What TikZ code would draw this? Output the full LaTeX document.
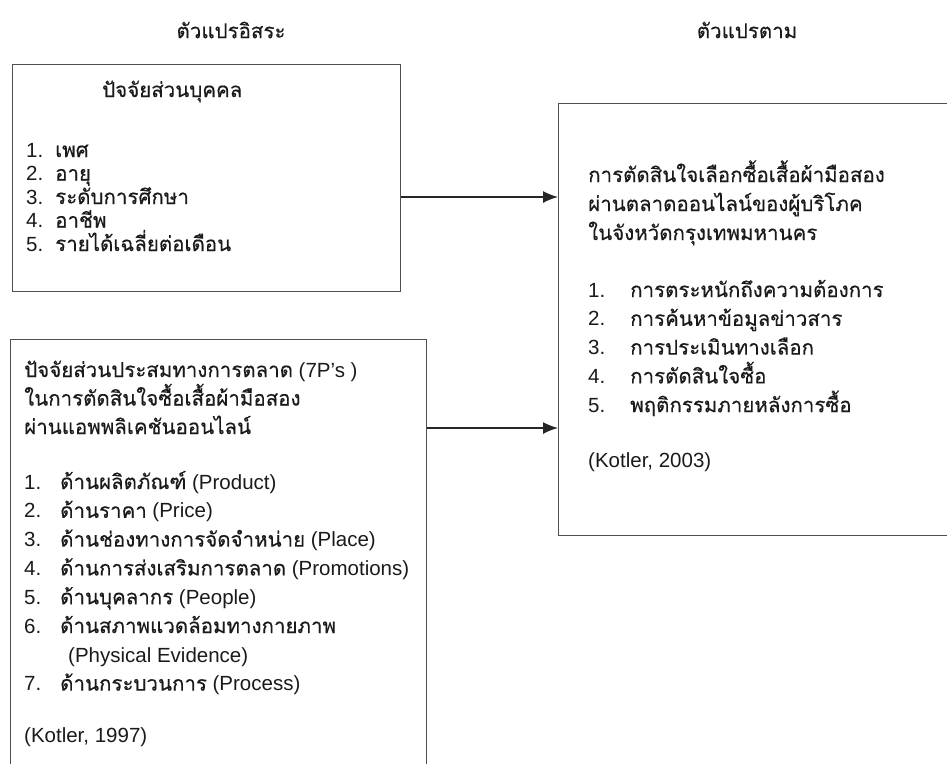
\documentclass[tikz,border=0pt]{standalone}
\usepackage{fontspec}
\setmainfont{Liberation Sans}
\newfontfamily\thaifont[Script=Thai,FakeBold=0.4]{Loma}
\usetikzlibrary{arrows.meta}

\definecolor{framegray}{HTML}{505050}
\definecolor{inkgray}{HTML}{1A1A1A}

\tikzset{
  panel/.style={draw=framegray, line width=1.4pt, inner sep=0pt, anchor=north west},
  txt/.style={anchor=base west, inner sep=0pt, text=inkgray, font=\fontsize{20.5}{24}\selectfont},
  colhead/.style={inner sep=0pt, text=inkgray, font=\thaifont\fontsize{20.5}{24}\selectfont},
  link/.style={draw=black!85, line width=1.4pt, -{Latex[length=15pt,width=12pt]}}
}

\begin{document}
\begin{tikzpicture}[x=1pt,y=1pt]
\useasboundingbox (0,0) rectangle (947,-763);

% column heads
\node[colhead] (headindep) at (231,-30) {ตัวแปรอิสระ};
\node[colhead] (headdep)   at (747,-30) {ตัวแปรตาม};

% boxes
\node[panel, minimum width=388pt, minimum height=227pt] (personal) at (12,-64) {};
\node[panel, minimum width=416pt, minimum height=440pt] (mix)      at (10,-339) {};
\node[panel, minimum width=420pt, minimum height=432pt] (decision) at (558,-103) {};

% personal factors
\node[txt] (personaltitle) at (102,-97) {\thaifont ปัจจัยส่วนบุคคล};
\foreach \t [count=\i] in {เพศ, อายุ, ระดับการศึกษา, อาชีพ, รายได้เฉลี่ยต่อเดือน}
{
  \node[txt] (pnum\i)  at (26,{-157-23.5*(\i-1)}) {\i.};
  \node[txt] (pitem\i) at (55,{-157-23.5*(\i-1)}) {\thaifont\t};
}

% marketing mix
\node[txt] (mixhead1) at (24,-377) {{\thaifont ปัจจัยส่วนประสมทางการตลาด} (7P’s )};
\node[txt] (mixhead2) at (24,-405.5) {\thaifont ในการตัดสินใจซื้อเสื้อผ้ามือสอง};
\node[txt] (mixhead3) at (24,-434) {\thaifont ผ่านแอพพลิเคชันออนไลน์};
\foreach \t/\e/\row [count=\i] in {ด้านผลิตภัณฑ์/(Product)/0, ด้านราคา/(Price)/1,
  ด้านช่องทางการจัดจำหน่าย/(Place)/2, ด้านการส่งเสริมการตลาด/(Promotions)/3,
  ด้านบุคลากร/(People)/4, ด้านสภาพแวดล้อมทางกายภาพ/{}/5, ด้านกระบวนการ/(Process)/7}
{
  \node[txt] (mnum\i)  at (24,{-489-28.8*\row}) {\i.};
  \node[txt] (mitem\i) at (60,{-489-28.8*\row}) {{\thaifont\t} \e};
}
\node[txt] (mitem6b) at (68,-662) {(Physical Evidence)};
\node[txt] (mixref) at (24,-742) {(Kotler, 1997)};

% decision process
\node[txt] (dechead1) at (588,-182) {\thaifont การตัดสินใจเลือกซื้อเสื้อผ้ามือสอง};
\node[txt] (dechead2) at (588,-211) {\thaifont ผ่านตลาดออนไลน์ของผู้บริโภค};
\node[txt] (dechead3) at (588,-240) {\thaifont ในจังหวัดกรุงเทพมหานคร};
\foreach \t [count=\i] in {การตระหนักถึงความต้องการ, การค้นหาข้อมูลข่าวสาร,
  การประเมินทางเลือก, การตัดสินใจซื้อ, พฤติกรรมภายหลังการซื้อ}
{
  \node[txt] (dnum\i)  at (588,{-297-28.8*(\i-1)}) {\i.};
  \node[txt] (ditem\i) at (630,{-297-28.8*(\i-1)}) {\thaifont\t};
}
\node[txt] (decref) at (588,-467) {(Kotler, 2003)};

% links
\coordinate (out1) at ([yshift=-133pt]personal.north east);
\coordinate (out2) at ([yshift=-89pt]mix.north east);
\draw[link] (out1) -- (out1 -| decision.west);
\draw[link] (out2) -- (out2 -| decision.west);
\end{tikzpicture}
\end{document}
